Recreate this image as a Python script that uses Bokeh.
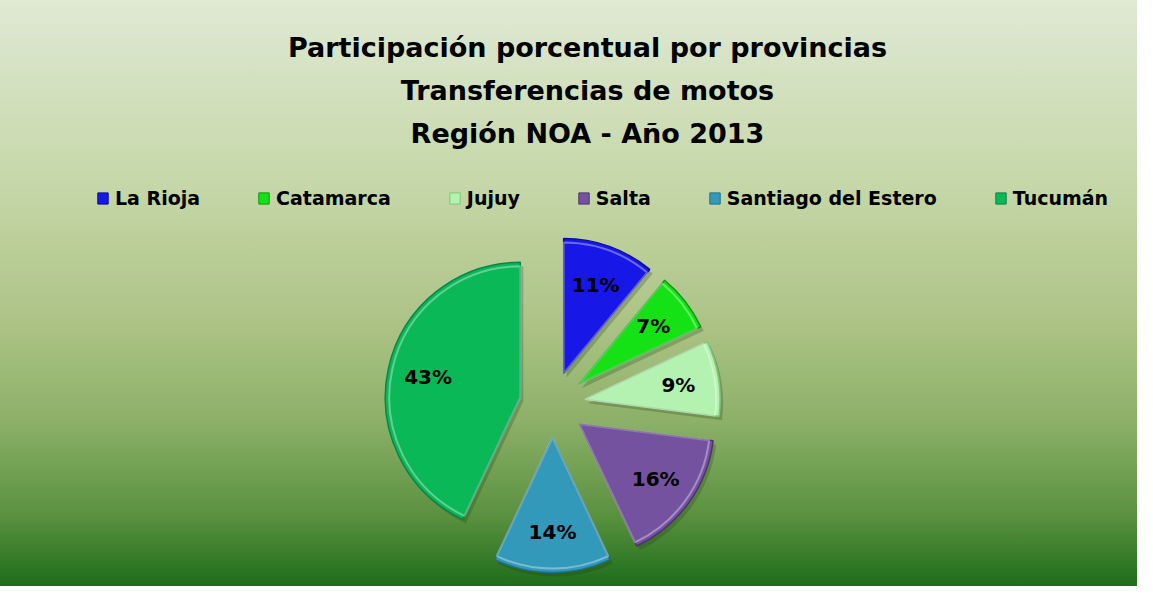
import math
from bokeh.plotting import figure
from bokeh.models import Range1d, Label, Legend, LegendItem, ColumnDataSource
from bokeh.core.properties import value
from bokeh.embed import file_html
from bokeh.resources import INLINE

# ---- data ----
provinces = ["La Rioja", "Catamarca", "Jujuy", "Salta", "Santiago del Estero", "Tucumán"]
shares = [11, 7, 9, 16, 14, 43]
colors = ["#1717e8", "#14e214", "#b3f2b0", "#7552a0", "#3399bb", "#0bb858"]
edge_colors = ["#0c0c9a", "#0a9a0a", "#7fc77c", "#4d3470", "#20708c", "#07864a"]
title_lines = ["Participación porcentual por provincias",
               "Transferencias de motos",
               "Región NOA - Año 2013"]

W, H = 1137, 586
FONT = "DejaVu Sans"

p = figure(width=W, height=H, output_backend="svg", toolbar_location=None,
           x_range=Range1d(0, W), y_range=Range1d(0, H), min_border=0)
p.axis.visible = False
p.grid.visible = False
p.outline_line_color = None
p.background_fill_alpha = 0
p.border_fill_alpha = 0
p.styles = {"background": "linear-gradient(to bottom, #dfe9d3 0%, #c4d6a6 33%, #adc386 55%, #8cb068 72%, #5a913f 88%, #1e6d1a 100%)"}

# ---- pie geometry ----
cx, cy = 552, H - 404
r = 135
explode = 33
total = float(sum(shares))
xs, ys, starts, ends, lx, ly, labels = [], [], [], [], [], [], []
cum = 0.0
for s in shares:
    c0 = cum / total
    cum += s
    c1 = cum / total
    a0 = math.pi / 2 - 2 * math.pi * c0
    a1 = math.pi / 2 - 2 * math.pi * c1
    mid = (a0 + a1) / 2
    x0 = cx + explode * math.cos(mid)
    y0 = cy + explode * math.sin(mid)
    xs.append(x0); ys.append(y0)
    starts.append(a0); ends.append(a1)
    lx.append(x0 + 0.7 * r * math.cos(mid))
    ly.append(y0 + 0.7 * r * math.sin(mid))
    labels.append(f"{round(s / total * 100)}%")

src = ColumnDataSource(dict(x=xs, y=ys, start=starts, end=ends, color=colors,
                            edge=edge_colors, lx=lx, ly=ly, label=labels,
                            sx=[v + 3 for v in xs], sy=[v - 4 for v in ys]))

# soft shadow
p.wedge(x="sx", y="sy", radius=r, start_angle="start", end_angle="end",
        direction="clock", source=src, fill_color="#1d3d10", fill_alpha=0.25,
        line_color=None)
p.wedge(x="x", y="y", radius=r, start_angle="start", end_angle="end",
        direction="clock", source=src, fill_color="color", line_color="edge",
        line_width=1.5)
# bevel highlight
p.wedge(x="x", y="y", radius=r - 4, start_angle="start", end_angle="end",
        direction="clock", source=src, fill_color=None, line_color="white",
        line_alpha=0.35, line_width=2)

p.text(x="lx", y="ly", text="label", source=src, text_align="center",
       text_baseline="middle", text_font=value(FONT), text_font_style="bold",
       text_font_size="20px", text_color="black")

# ---- legend ----
items = []
for name, col, ec in zip(provinces, colors, edge_colors):
    rr = p.quad(left=[float("nan")], right=[float("nan")], bottom=[float("nan")],
                top=[float("nan")], fill_color=col, line_color=ec)
    items.append(LegendItem(label=name, renderers=[rr]))
legend = Legend(items=items, orientation="horizontal", location=(96, H - 209),
                label_text_font=FONT, label_text_font_style="bold",
                label_text_font_size="19px", label_standoff=6,
                glyph_width=13, glyph_height=14, spacing=57,
                background_fill_alpha=0, border_line_color=None,
                label_text_color="black")
p.add_layout(legend, "center")

# ---- title ----
for i, t in enumerate(title_lines):
    p.add_layout(Label(x=587, y=H - 47 - 43 * i, text=t, x_units="screen",
                       y_units="screen", text_align="center",
                       text_baseline="middle", text_font=FONT,
                       text_font_style="bold", text_font_size="27px",
                       text_color="black"))

open("out.html", "w").write(file_html(p, INLINE))
